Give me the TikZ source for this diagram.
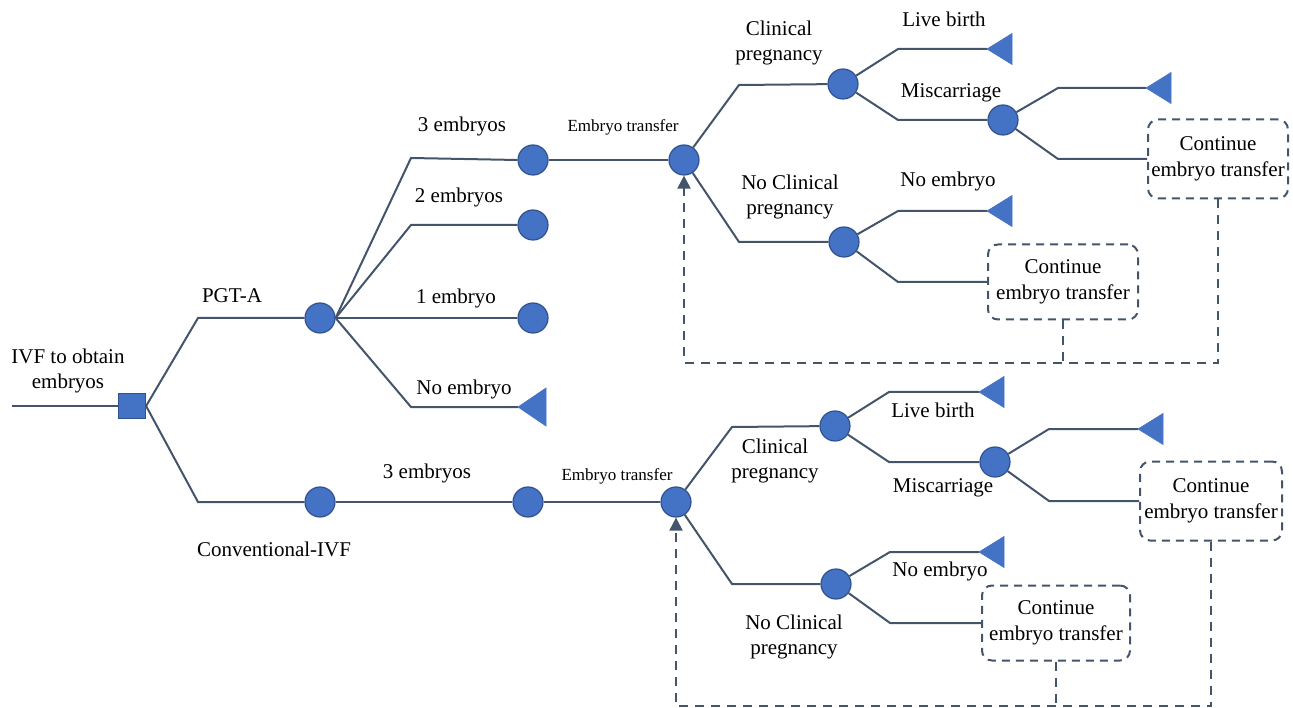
\documentclass[tikz,border=0pt]{standalone}
\usepackage{fontspec}
\setmainfont{Liberation Serif}
\newfontfamily\lserif{Liberation Serif}
\usetikzlibrary{arrows.meta}
\definecolor{nblue}{HTML}{4472C4}
\definecolor{nborder}{HTML}{2F528F}
\definecolor{lcol}{HTML}{44546A}
\newcommand{\termnode}[4]{\coordinate (#1) at (#2);
  \filldraw[termtri] (#1) -- ++(#3,-#4) -- ++(0,2*#4) -- cycle;}
\begin{document}
\begin{tikzpicture}[x=1pt,y=-1pt,
  chance/.style={circle,fill=nblue,draw=nborder,line width=1.2pt,minimum size=30pt,inner sep=0pt},
  decision/.style={rectangle,fill=nblue,draw=nborder,line width=1.2pt,minimum width=27pt,minimum height=25pt,inner sep=0pt},
  termtri/.style={fill=nblue,draw=nblue,line width=0.6pt},
  link/.style={draw=lcol,line width=2pt},
  lbl/.style={font=\lserif\fontsize{21}{25}\selectfont,align=center,inner sep=0pt},
  smalllbl/.style={font=\lserif\fontsize{17}{20}\selectfont,inner sep=0pt},
  contbox/.style={draw=lcol,line width=2pt,dash pattern=on 8pt off 6pt,rounded corners=10pt,align=center,inner sep=0pt,font=\lserif\fontsize{21}{26}\selectfont},
  fb/.style={draw=lcol,line width=2pt,dash pattern=on 9pt off 7pt}
]
\useasboundingbox (0,0) rectangle (1293,708);

% ---------- nodes ----------
\coordinate (in) at (12,406);
\node[decision] (sq) at (132,406) {};
\node[chance] (pgt) at (320,318) {};
\node[chance] (conv) at (320,502) {};
\node[chance] (e3) at (533,160) {};
\node[chance] (e2) at (533,225) {};
\node[chance] (e1) at (533,318) {};
\node[chance] (et1) at (684,160) {};
\node[chance] (cp1) at (843,84) {};
\node[chance] (ncp1) at (844,242) {};
\node[chance] (mc1) at (1003,120) {};
\node[contbox,minimum width=140pt,minimum height=79pt] (cb1) at (1218,159) {Continue\\embryo transfer};
\node[contbox,minimum width=150pt,minimum height=75pt] (cs1) at (1063,282) {Continue\\embryo transfer};

\node[chance] (c3) at (528,502) {};
\node[chance] (et2) at (676,502) {};
\node[chance] (cp2) at (835,426) {};
\node[chance] (ncp2) at (836,584) {};
\node[chance] (mc2) at (995,462) {};
\node[contbox,minimum width=142pt,minimum height=79pt] (cb2) at (1211,501) {Continue\\embryo transfer};
\node[contbox,minimum width=148pt,minimum height=75pt] (cs2) at (1056,623) {Continue\\embryo transfer};

% ---------- connectors ----------
\draw[link] (in) -- (sq.west);
\draw[link] (sq.east) -- (198,318) -- (pgt);
\draw[link] (sq.east) -- (198,502) -- (conv);
\draw[link] (pgt.east) -- (411,158) -- (e3.west);
\draw[link] (pgt.east) -- (411,225) -- (e2);
\draw[link] (pgt.east) -- (e1);
\draw[link] (pgt.east) -- (411,407) -- (518,407);
\draw[link] (e3) -- (et1);
\draw[link] (et1) -- (739,85) -- (cp1);
\draw[link] (et1) -- (739,242) -- (ncp1);
\draw[link] (cp1) -- (898,49) -- (987,49);
\draw[link] (cp1) -- (898,120) -- (mc1);
\draw[link] (mc1) -- (1058,88) -- (1146,88);
\draw[link] (mc1) -- (1058,159) -- (cb1.west);
\draw[link] (ncp1) -- (898,211) -- (987,211);
\draw[link] (ncp1) -- (898,282) -- (cs1.west);

\draw[link] (conv) -- (c3);
\draw[link] (c3) -- (et2);
\draw[link] (et2) -- (732,427) -- (cp2);
\draw[link] (et2) -- (732,584) -- (ncp2);
\draw[link] (cp2) -- (889,392) -- (979,392);
\draw[link] (cp2) -- (889,462) -- (mc2);
\draw[link] (mc2) -- (1049,429) -- (1138,429);
\draw[link] (mc2) -- (1049,501) -- (cb2.west);
\draw[link] (ncp2) -- (890,552) -- (979,552);
\draw[link] (ncp2) -- (890,623) -- (cs2.west);

% ---------- terminal triangles ----------
\termnode{e0}{518,407}{28}{19}
\termnode{lb1}{987,49}{25}{15.5}
\termnode{mt1}{1146,88}{25}{15.5}
\termnode{ne1}{987,211}{25}{15.5}
\termnode{lb2}{979,392}{25}{15.5}
\termnode{mt2}{1138,429}{25}{15.5}
\termnode{ne2}{979,552}{25}{15.5}

% ---------- feedback loops ----------
\coordinate (fb1) at (684,363);
\draw[fb] (cs1.south) -- (cs1.south |- fb1);
\draw[fb,-{Triangle[length=13pt,width=13pt]}] (cb1.south) |- (fb1) -- (et1.south);
\coordinate (fb2) at (676,706);
\draw[fb] (cs2.south) -- (cs2.south |- fb2);
\draw[fb,-{Triangle[length=13pt,width=13pt]}] (cb2.south) |- (fb2) -- (et2.south);

% ---------- labels ----------
\node[lbl] (tivf) at (68,371) {IVF to obtain\\embryos};
\node[lbl] (tpgt) at (232,296) {PGT-A};
\node[lbl] (tconv) at (274,549) {Conventional-IVF};
\node[lbl] (t3e) at (462,126) {3 embryos};
\node[lbl] (t2e) at (459,197) {2 embryos};
\node[lbl] (t1e) at (456,298) {1 embryo};
\node[lbl] (t0e) at (464,389) {No embryo};
\node[smalllbl] (tet1) at (623,127) {Embryo transfer};
\node[lbl] (tcp1) at (779,42.5) {Clinical\\pregnancy};
\node[lbl] (tncp1) at (790,197) {No Clinical\\pregnancy};
\node[lbl] (tlb1) at (944,19) {Live birth};
\node[lbl] (tmc1) at (951,93) {Miscarriage};
\node[lbl] (tne1) at (948,181) {No embryo};

\node[lbl] (t3eb) at (427,473) {3 embryos};
\node[smalllbl] (tet2) at (617,476) {Embryo transfer};
\node[lbl] (tcp2) at (775,460.5) {Clinical\\pregnancy};
\node[lbl] (tncp2) at (794,637) {No Clinical\\pregnancy};
\node[lbl] (tlb2) at (933,410) {Live birth};
\node[lbl] (tmc2) at (943,488) {Miscarriage};
\node[lbl] (tne2) at (940,571) {No embryo};
\end{tikzpicture}
\end{document}
